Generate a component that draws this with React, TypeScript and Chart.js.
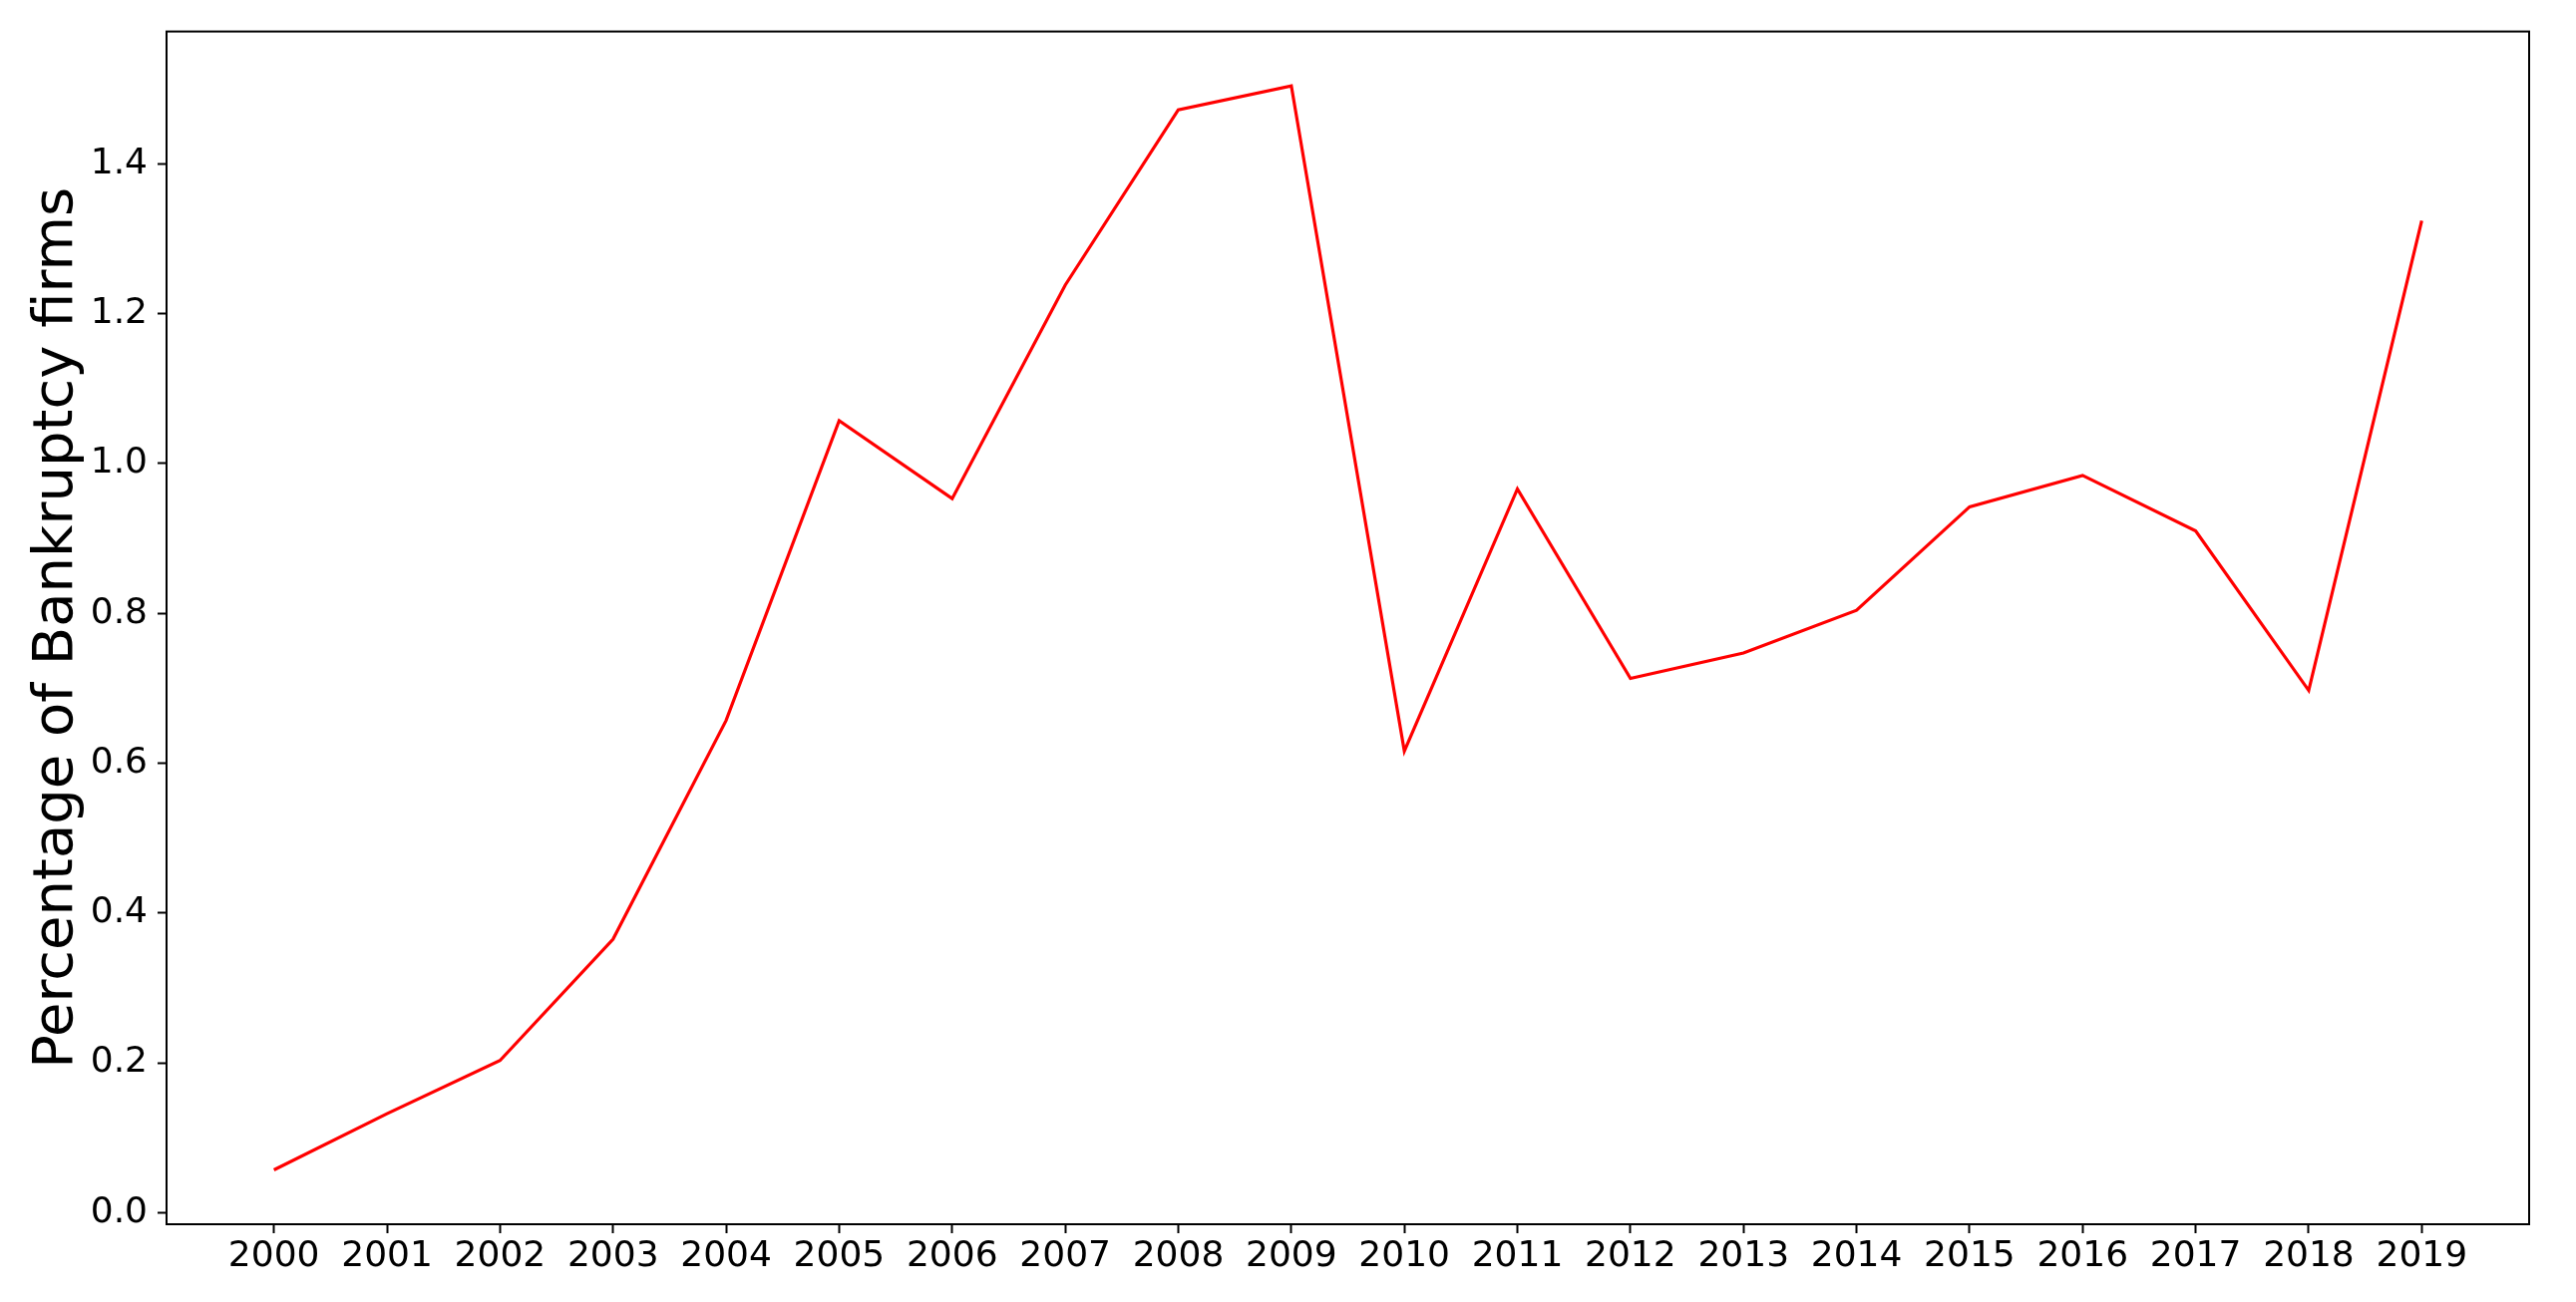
import React, { useEffect, useRef } from "react";
import { Chart, registerables } from "chart.js";

Chart.register(...registerables);

const years = [2000, 2001, 2002, 2003, 2004, 2005, 2006, 2007, 2008, 2009, 2010, 2011, 2012, 2013, 2014, 2015, 2016, 2017, 2018, 2019];
const bankruptcyPct = [0.057, 0.132, 0.203, 0.365, 0.657, 1.057, 0.953, 1.238, 1.472, 1.504, 0.616, 0.966, 0.713, 0.747, 0.804, 0.942, 0.984, 0.910, 0.697, 1.324];
const yTickValues = [0, 0.2, 0.4, 0.6, 0.8, 1.0, 1.2, 1.4];
const yAxisTitle = "Percentage of Bankruptcy firms";

const W = 2583;
const H = 1306;
const FONT = "'DejaVu Sans', sans-serif";

const framePlugin = {
  id: "frame",
  afterDraw(chart: any) {
    const { ctx, chartArea } = chart;
    ctx.save();
    ctx.strokeStyle = "#000";
    ctx.lineWidth = 2;
    ctx.strokeRect(chartArea.left, chartArea.top, chartArea.right - chartArea.left, chartArea.bottom - chartArea.top);
    ctx.restore();
  },
};

export default function App() {
  const ref = useRef<HTMLCanvasElement | null>(null);
  useEffect(() => {
    if (!ref.current) return;
    const chart = new Chart(ref.current, {
      type: "line",
      data: {
        datasets: [
          {
            data: years.map((y, i) => ({ x: y, y: bankruptcyPct[i] })),
            borderColor: "#ff0000",
            borderWidth: 3.2,
            pointRadius: 0,
            fill: false,
            tension: 0,
          },
        ],
      },
      options: {
        animation: false,
        responsive: false,
        devicePixelRatio: 1,
        layout: { padding: { left: 0, top: 30, right: 47, bottom: 0 } },
        plugins: { legend: { display: false }, tooltip: { enabled: false } },
        scales: {
          x: {
            type: "linear",
            min: 1999.05,
            max: 2019.95,
            afterBuildTicks: (scale: any) => {
              scale.ticks = years.map((v) => ({ value: v }));
            },
            afterFit: (scale: any) => {
              scale.height = 78;
            },
            grid: { drawOnChartArea: false, drawTicks: true, tickLength: 9, tickWidth: 2, tickColor: "#000" },
            border: { display: true, color: "#000", width: 2 },
            ticks: {
              color: "#000",
              font: { family: FONT, size: 36 },
              padding: 2,
              maxRotation: 0,
              autoSkip: false,
              callback: (v: any) => String(v),
            },
          },
          y: {
            type: "linear",
            min: -0.0155,
            max: 1.5765,
            afterBuildTicks: (scale: any) => {
              scale.ticks = yTickValues.map((v) => ({ value: v }));
            },
            afterFit: (scale: any) => {
              scale.width = 167;
            },
            grid: { drawOnChartArea: false, drawTicks: true, tickLength: 9, tickWidth: 2, tickColor: "#000" },
            border: { display: true, color: "#000", width: 2 },
            ticks: {
              color: "#000",
              font: { family: FONT, size: 36 },
              padding: 10,
              callback: (v: any) => Number(v).toFixed(1),
            },
            title: {
              display: true,
              text: yAxisTitle,
              color: "#000",
              font: { family: FONT, size: 56 },
              padding: { top: 24, bottom: 0 },
            },
          },
        },
      },
      plugins: [framePlugin],
    });
    return () => chart.destroy();
  }, []);
  return (
    <div style={{ position: "fixed", left: 0, top: 0, width: W, height: H, background: "#fff" }}>
      <canvas ref={ref} width={W} height={H} style={{ display: "block", width: W, height: H }} />
    </div>
  );
}
